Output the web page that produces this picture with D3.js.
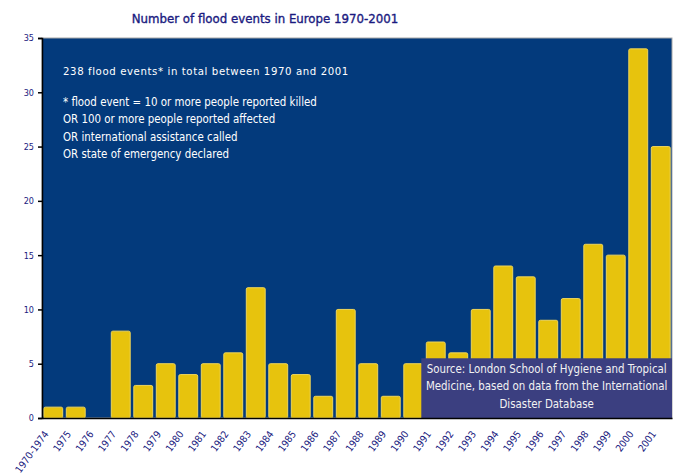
<!DOCTYPE html>
<html>
<head>
<meta charset="utf-8">
<script src="https://cdn.jsdelivr.net/npm/d3@7/dist/d3.min.js"></script>
<style>
  html, body { margin: 0; padding: 0; background: #ffffff; }
  svg { display: block; }
</style>
</head>
<body>
<svg id="chart" width="675" height="476"></svg>
<script>
// Flood events per period, Europe 1970-2001
const categories = ["1970-1974", "1975", "1976", "1977", "1978", "1979", "1980", "1981",
  "1982", "1983", "1984", "1985", "1986", "1987", "1988", "1989", "1990", "1991",
  "1992", "1993", "1994", "1995", "1996", "1997", "1998", "1999", "2000", "2001"];
const floodEvents = [1, 1, 0, 8, 3, 5, 4, 5, 6, 12, 5, 4, 2, 10, 5, 2, 5, 7,
  6, 10, 14, 13, 9, 11, 16, 15, 34, 25];
const yTicks = [0, 5, 10, 15, 20, 25, 30, 35];

const titleText = "Number of flood events in Europe 1970-2001";
const noteLines = [
  "* flood event = 10 or more people reported killed",
  "OR 100 or more people reported affected",
  "OR international assistance called",
  "OR state of emergency declared"
];
const totalLine = "238 flood events* in total between 1970 and 2001";
const sourceLines = [
  "Source:  London School of Hygiene and Tropical",
  "Medicine, based on data from the International",
  "Disaster Database"
];

const svg = d3.select("#chart");
const margin = { top: 38, right: 3, bottom: 58, left: 42 };
const W = 675, H = 476;
const innerW = W - margin.left - margin.right;
const innerH = H - margin.top - margin.bottom;
const navy = "#1a1a80";
const font = "'DejaVu Sans Condensed', 'DejaVu Sans', sans-serif";

const x = d3.scaleBand().domain(categories).range([0, innerW]).paddingInner(0.16).paddingOuter(0.08);
const y = d3.scaleLinear().domain([0, 35]).range([innerH, 0]);

// title
svg.append("text")
  .attr("x", 265).attr("y", 23)
  .attr("text-anchor", "middle")
  .attr("font-family", font)
  .attr("font-size", 13.1)
  .attr("fill", navy)
  .attr("stroke", navy)
  .attr("stroke-width", 0.35)
  .text(titleText);

const g = svg.append("g").attr("transform", `translate(${margin.left},${margin.top})`);

// plot background
g.append("rect")
  .attr("x", 0).attr("y", 0).attr("width", innerW).attr("height", innerH)
  .attr("fill", "#033a7c")
  .attr("stroke", "#a8a8a8").attr("stroke-width", 1);

// bars
g.selectAll("rect.bar")
  .data(floodEvents)
  .join("rect")
  .attr("class", "bar")
  .attr("x", (d, i) => x(categories[i]))
  .attr("y", d => y(d))
  .attr("width", x.bandwidth())
  .attr("height", d => innerH - y(d))
  .attr("rx", 1.5)
  .attr("fill", "#e7c30d")
  .attr("stroke", "#efd55a")
  .attr("stroke-width", d => d > 0 ? 1 : 0);

// source box over the lower right
const boxX = x("1991") - 5;
const boxTop = y(5.5);
g.append("rect")
  .attr("x", boxX).attr("y", boxTop)
  .attr("width", innerW - boxX).attr("height", innerH - boxTop)
  .attr("fill", "#3b3f80");
const boxCx = boxX + (innerW - boxX) / 2;
g.append("g").selectAll("text")
  .data(sourceLines)
  .join("text")
  .attr("x", boxCx)
  .attr("y", (d, i) => boxTop + 14.5 + i * 17.5)
  .attr("text-anchor", "middle")
  .attr("font-family", font)
  .attr("font-size", 11.4)
  .attr("fill", "#f2f2f2")
  .text(d => d);

// annotation text
g.append("text")
  .attr("x", 21).attr("y", 37)
  .attr("font-family", font)
  .attr("font-size", 11.3)
  .attr("letter-spacing", 0.6)
  .attr("fill", "#ffffff")
  .text(totalLine);
g.append("g").selectAll("text")
  .data(noteLines)
  .join("text")
  .attr("x", 21)
  .attr("y", (d, i) => 68 + i * 17.4)
  .attr("font-family", font)
  .attr("font-size", 11.4)
  .attr("fill", "#ffffff")
  .text(d => d);

// y axis
const yAxis = g.append("g")
  .call(d3.axisLeft(y).tickValues(yTicks).tickSize(4).tickPadding(4));
yAxis.select(".domain").attr("stroke", "#000").attr("stroke-width", 1.5);
yAxis.selectAll(".tick line").attr("stroke", "#000").attr("stroke-width", 1.5);
yAxis.selectAll(".tick text")
  .attr("font-family", font)
  .attr("font-size", 9)
  .attr("fill", navy);

// x axis
const xAxis = g.append("g")
  .attr("transform", `translate(0,${innerH})`)
  .call(d3.axisBottom(x).tickSize(0).tickPadding(0));
xAxis.select(".domain").attr("stroke", "#000").attr("stroke-width", 1.5);
xAxis.selectAll(".tick text")
  .attr("font-family", font)
  .attr("font-size", 10)
  .attr("fill", navy)
  .attr("text-anchor", "end")
  .attr("x", 0).attr("y", 0).attr("dy", "0.35em")
  .attr("transform", "translate(-7,14) rotate(-54)");
</script>
</body>
</html>
